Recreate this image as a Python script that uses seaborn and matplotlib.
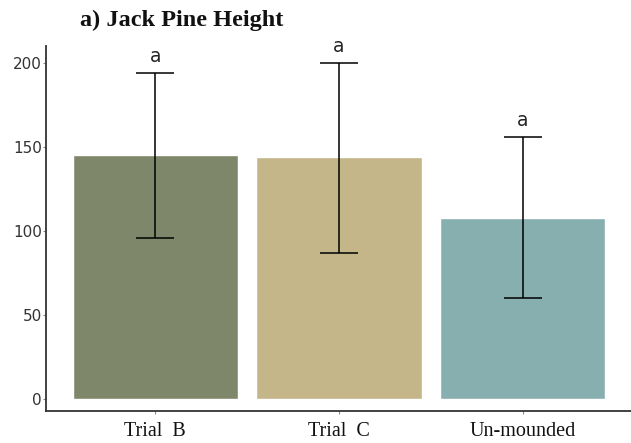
import matplotlib
matplotlib.use("Agg")
import matplotlib.pyplot as plt
import seaborn as sns
import pandas as pd
import numpy as np

categories = ["Trial  B", "Trial  C", "Un-mounded"]
means = [145, 144, 108]
err_low = [96, 87, 60]
err_high = [194, 200, 156]
letters = ["a", "a", "a"]
colors = ["#7F876A", "#C4B689", "#88AFAF"]

sns.set_theme(style="white")
df = pd.DataFrame({"group": categories, "height": means})

fig = plt.figure(figsize=(6.31, 4.43), dpi=100)
ax = fig.add_axes([0.073, 0.072, 0.927, 0.824])
sns.barplot(data=df, x="group", y="height", hue="group", palette=colors,
            width=0.9, saturation=1, legend=False, ax=ax, errorbar=None)

x = np.arange(len(categories))
yerr = [np.array(means) - np.array(err_low), np.array(err_high) - np.array(means)]
ax.errorbar(x, means, yerr=yerr, fmt="none", ecolor="black", elinewidth=1.1,
            capsize=13.5, capthick=1.1)
for xi, hi, lt in zip(x, err_high, letters):
    ax.text(xi, hi + 4, lt, ha="center", va="bottom", fontsize=13.5,
            family="DejaVu Sans", color="#222222")

ax.set_xlim(-0.595, 2.59)
ax.set_ylim(-7, 210)
ax.set_yticks([0, 50, 100, 150, 200])
ax.set_xlabel("")
ax.set_ylabel("")
for s in ["top", "right"]:
    ax.spines[s].set_visible(False)
for s in ["left", "bottom"]:
    ax.spines[s].set_color("#333333")
    ax.spines[s].set_linewidth(1.3)
ax.tick_params(axis="y", which="both", length=2, width=0.8, color="#888888",
               left=True, pad=1)
ax.tick_params(axis="x", which="both", length=2.5, width=0.8, color="#888888",
               bottom=True, pad=5)
for lab in ax.get_yticklabels():
    lab.set_family("DejaVu Sans")
    lab.set_fontsize(11)
    lab.set_color("#333333")
for lab in ax.get_xticklabels():
    lab.set_family("Liberation Serif")
    lab.set_fontsize(14.5)
    lab.set_color("#111111")

fig.text(0.127, 0.953, "a) Jack Pine Height", family="Liberation Serif",
         fontweight="bold", fontsize=17.5, ha="left", va="center", color="#111111")

fig.savefig("out.png", dpi=100)
